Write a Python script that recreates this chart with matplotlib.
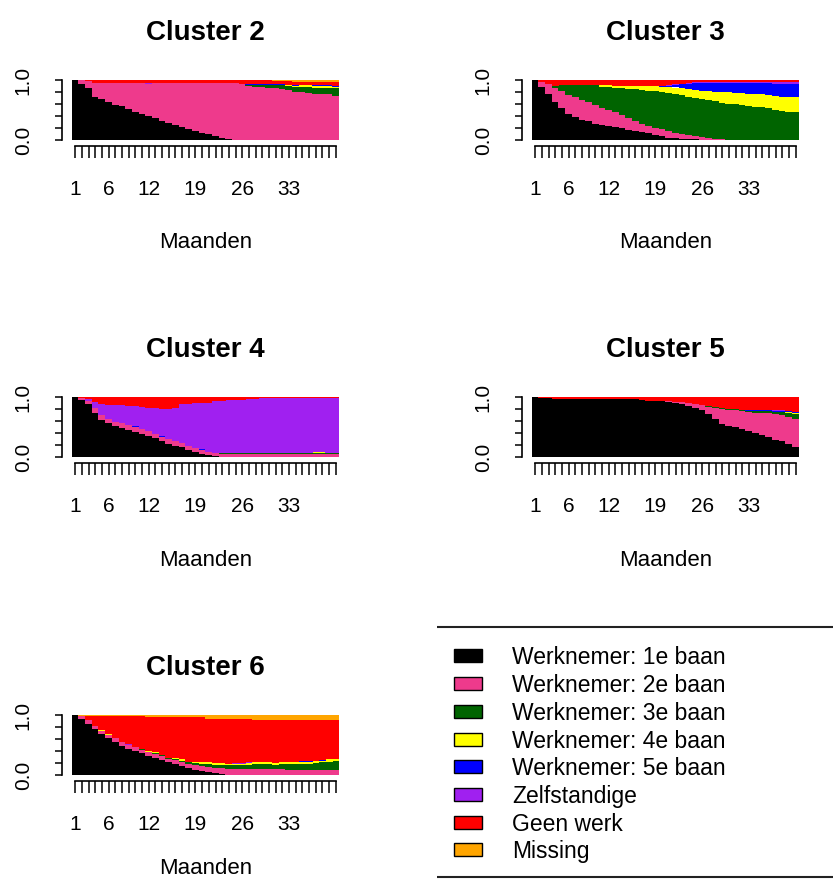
import matplotlib.pyplot as plt
from matplotlib.patches import Rectangle
import numpy as np

plt.rcParams['font.family'] = ['Liberation Sans', 'DejaVu Sans']

W, H = 833, 882

# months on the x axis, only some get a label
months = list(range(1, 41))
shown_ticks = [1, 6, 12, 19, 26, 33]

states = ['Werknemer: 1e baan', 'Werknemer: 2e baan', 'Werknemer: 3e baan',
          'Werknemer: 4e baan', 'Werknemer: 5e baan', 'Zelfstandige',
          'Geen werk', 'Missing']
state_colors = ['#000000', '#EE3A8C', '#006400', '#FFFF00',
                '#0000FF', '#A020F0', '#FF0000', '#FFA500']

# state distributions in percent per month
# Cluster 2
c2_w1 = [100, 94, 86, 72, 68, 64, 59, 56, 51, 47, 43, 40, 36, 32, 29, 25, 22, 18, 15, 12,
         10, 7, 4, 2, 0, 0, 0, 0, 0, 0, 0, 0, 0, 0, 0, 0, 0, 0, 0, 0]
c2_w2 = [0, 6, 12, 23, 27, 31, 36, 39, 44, 48, 52, 54, 59, 63, 66, 70, 73, 77, 80, 83,
         85, 88, 91, 93, 95, 93, 90, 89, 88, 87, 86, 85, 83, 80, 80, 79, 77, 77, 76, 74]
c2_w3 = [0, 0, 0, 0, 0, 0, 0, 0, 0, 0, 0, 0, 0, 0, 0, 0, 0, 0, 0, 0,
         0, 0, 0, 0, 0, 1, 2, 3, 4, 5, 6, 6, 7, 8, 8, 9, 10, 10, 11, 12]
c2_w4 = [0, 0, 0, 0, 0, 0, 0, 0, 0, 0, 0, 0, 0, 0, 0, 0, 0, 0, 0, 0,
         0, 0, 0, 0, 0, 0, 0, 0, 0, 0, 0, 1, 1, 2, 3, 3, 3, 3, 3, 3]
c2_w5 = [0, 0, 0, 0, 0, 0, 0, 0, 0, 0, 0, 0, 0, 0, 0, 0, 0, 0, 0, 0,
         0, 0, 0, 0, 0, 0, 1, 1, 1, 1, 1, 1, 1, 1, 1, 1, 1, 1, 1, 1]
c2_zelf = [0, 0, 0, 0, 0, 0, 0, 0, 0, 0, 0, 1, 0, 0, 0, 0, 0, 0, 0, 0,
           0, 0, 0, 0, 0, 0, 0, 0, 0, 0, 0, 0, 0, 0, 0, 0, 0, 0, 0, 0]
c2_geen = [0, 0, 2, 5, 5, 5, 5, 5, 5, 5, 5, 5, 5, 5, 5, 5, 5, 5, 5, 5,
           5, 5, 5, 5, 5, 6, 7, 7, 7, 7, 6, 6, 6, 6, 5, 5, 5, 5, 5, 6]
c2_miss = [0, 0, 0, 0, 0, 0, 0, 0, 0, 0, 0, 0, 0, 0, 0, 0, 0, 0, 0, 0,
           0, 0, 0, 0, 0, 0, 0, 0, 0, 0, 1, 1, 2, 3, 3, 3, 4, 4, 4, 4]

# Cluster 3
c3_w1 = [100, 89, 76, 63, 53, 44, 39, 34, 31, 27, 25, 23, 21, 19, 17, 15, 13, 11, 8, 6,
         4, 3, 2, 2, 1, 0, 0, 0, 0, 0, 0, 0, 0, 0, 0, 0, 0, 0, 0, 0]
c3_w2 = [0, 8, 17, 23, 28, 31, 32, 33, 32, 31, 29, 27, 25, 23, 19, 16, 13, 11, 11, 11,
         10, 9, 7, 6, 5, 5, 3, 2, 1, 0, 0, 0, 0, 0, 0, 0, 0, 0, 0, 0]
c3_w3 = [0, 0, 0, 4, 11, 17, 21, 25, 29, 34, 35, 39, 41, 44, 48, 52, 55, 57, 58, 59,
         61, 61, 63, 61, 62, 61, 61, 61, 60, 59, 58, 57, 55, 54, 53, 51, 50, 48, 47, 46]
c3_w4 = [0, 0, 0, 0, 0, 0, 0, 0, 0, 0, 2, 2, 3, 3, 4, 5, 6, 7, 8, 9,
         10, 11, 12, 12, 13, 14, 15, 16, 17, 18, 19, 20, 20, 21, 21, 22, 23, 23, 24, 26]
c3_w5 = [0, 0, 0, 0, 0, 0, 0, 0, 0, 0, 0, 0, 0, 0, 0, 0, 0, 0, 0, 1,
         2, 4, 6, 9, 11, 12, 13, 14, 15, 15, 16, 16, 17, 17, 18, 19, 20, 21, 22, 22]
c3_zelf = [0, 0, 0, 0, 0, 0, 0, 0, 0, 0, 0, 0, 0, 0, 0, 0, 0, 0, 1, 1,
           1, 1, 1, 1, 1, 1, 1, 1, 1, 1, 1, 1, 1, 1, 1, 1, 2, 2, 2, 2]
c3_geen = [0, 3, 7, 10, 8, 8, 8, 8, 8, 8, 9, 9, 10, 10, 10, 10, 10, 10, 9, 9,
           8, 7, 6, 5, 4, 4, 4, 4, 4, 4, 4, 4, 4, 4, 4, 4, 4, 4, 4, 4]
c3_miss = [0, 0, 0, 0, 0, 0, 0, 0, 0, 0, 0, 0, 0, 0, 0, 0, 0, 0, 0, 0,
           0, 0, 0, 0, 0, 0, 0, 0, 0, 0, 0, 0, 0, 0, 0, 0, 0, 0, 0, 0]

# Cluster 4
c4_w1 = [100, 95, 88, 74, 62, 56, 51, 48, 45, 42, 39, 35, 31, 26, 22, 19, 16, 12, 8, 5,
         3, 1, 0, 0, 0, 0, 0, 0, 0, 0, 0, 0, 0, 0, 0, 0, 0, 0, 0, 0]
c4_w2 = [0, 3, 6, 7, 8, 8, 8, 8, 8, 8, 8, 8, 8, 8, 8, 8, 8, 7, 7, 7,
         6, 6, 5, 5, 5, 5, 5, 5, 5, 5, 5, 5, 5, 5, 5, 5, 5, 5, 5, 5]
c4_w3 = [0, 0, 0, 0, 0, 0, 0, 0, 0, 0, 0, 0, 0, 0, 0, 0, 0, 0, 0, 0,
         0, 0, 2, 2, 2, 2, 2, 2, 1, 1, 2, 2, 2, 2, 2, 2, 2, 2, 2, 2]
c4_w4 = [0, 0, 0, 0, 0, 0, 0, 0, 0, 0, 0, 0, 0, 0, 0, 0, 0, 0, 0, 0,
         0, 0, 0, 0, 0, 0, 0, 0, 0, 0, 0, 0, 0, 0, 0, 0, 2, 2, 0, 0]
c4_w5 = [0, 0, 0, 0, 0, 0, 0, 0, 0, 1, 0, 0, 0, 1, 0, 0, 0, 0, 0, 1,
         0, 0, 0, 0, 0, 0, 0, 0, 0, 0, 0, 0, 0, 0, 0, 0, 0, 0, 0, 0]
c4_zelf = [0, 0, 2, 11, 18, 23, 27, 30, 32, 34, 37, 39, 42, 45, 50, 54, 64, 70, 75, 77,
           81, 86, 87, 88, 88, 88, 89, 90, 92, 92, 91, 91, 91, 91, 91, 91, 89, 89, 91, 91]
c4_geen = [0, 2, 4, 8, 12, 13, 14, 14, 15, 15, 16, 18, 19, 20, 20, 19, 12, 11, 10, 10,
           10, 7, 6, 5, 5, 5, 4, 3, 2, 2, 2, 2, 2, 2, 2, 2, 2, 2, 2, 2]
c4_miss = [0, 0, 0, 0, 0, 0, 0, 0, 0, 0, 0, 0, 0, 0, 0, 0, 0, 0, 0, 0,
           0, 0, 0, 0, 0, 0, 0, 0, 0, 0, 0, 0, 0, 0, 0, 0, 0, 0, 0, 0]

# Cluster 5
c5_w1 = [100, 99, 98, 96, 96, 96, 96, 96, 96, 96, 96, 96, 96, 96, 96, 96, 95, 94, 93, 93,
         92, 90, 88, 85, 82, 79, 72, 63, 55, 52, 50, 47, 44, 40, 36, 33, 29, 26, 22, 17]
c5_w2 = [0, 0, 1, 1, 0, 0, 0, 0, 0, 0, 0, 0, 0, 0, 0, 0, 0, 0, 1, 1,
         1, 2, 3, 5, 6, 8, 12, 19, 25, 26, 28, 29, 31, 34, 37, 40, 42, 44, 45, 46]
c5_w3 = [0, 0, 0, 0, 0, 0, 0, 0, 0, 0, 0, 0, 0, 0, 0, 0, 0, 0, 0, 0,
         0, 0, 0, 0, 0, 0, 1, 1, 1, 2, 2, 2, 2, 2, 3, 3, 4, 5, 7, 9]
c5_w4 = [0, 0, 0, 0, 0, 0, 0, 0, 0, 0, 0, 0, 0, 0, 0, 0, 0, 0, 0, 0,
         0, 0, 0, 0, 0, 0, 0, 0, 0, 0, 0, 0, 0, 0, 0, 0, 0, 0, 1, 2]
c5_w5 = [0, 0, 0, 0, 0, 0, 0, 0, 0, 0, 0, 0, 0, 0, 0, 0, 0, 0, 0, 0,
         0, 0, 0, 0, 0, 0, 0, 0, 0, 0, 0, 1, 2, 2, 2, 2, 2, 2, 1, 1]
c5_zelf = [0, 0, 0, 0, 0, 0, 0, 0, 0, 0, 0, 0, 0, 0, 0, 0, 0, 0, 0, 0,
           0, 0, 0, 0, 0, 0, 0, 0, 0, 0, 0, 0, 0, 1, 1, 1, 1, 1, 0, 0]
c5_geen = [0, 1, 1, 3, 4, 4, 4, 4, 4, 4, 4, 4, 4, 4, 4, 4, 5, 6, 6, 6,
           7, 8, 9, 10, 12, 13, 15, 17, 19, 20, 20, 21, 21, 21, 21, 21, 22, 22, 24, 25]
c5_miss = [0, 0, 0, 0, 0, 0, 0, 0, 0, 0, 0, 0, 0, 0, 0, 0, 0, 0, 0, 0,
           0, 0, 0, 0, 0, 0, 0, 0, 0, 0, 0, 0, 0, 0, 0, 0, 0, 0, 0, 0]

# Cluster 6
c6_w1 = [100, 94, 85, 76, 68, 61, 55, 49, 44, 40, 36, 32, 29, 25, 21, 18, 15, 12, 9, 7,
         5, 3, 1, 0, 0, 0, 0, 0, 0, 0, 0, 0, 0, 0, 0, 0, 0, 0, 0, 0]
c6_w2 = [0, 4, 6, 6, 6, 6, 6, 6, 6, 6, 6, 6, 6, 6, 6, 7, 7, 7, 8, 8,
         9, 9, 10, 10, 10, 10, 10, 10, 10, 10, 10, 10, 9, 9, 8, 8, 8, 8, 8, 8]
c6_w3 = [0, 0, 0, 0, 0, 0, 0, 0, 0, 0, 1, 1, 1, 2, 2, 2, 2, 2, 3, 4,
         5, 5, 6, 6, 6, 6, 7, 8, 8, 8, 7, 8, 9, 10, 11, 11, 12, 13, 14, 15]
c6_w4 = [0, 0, 0, 0, 1, 2, 1, 0, 0, 0, 0, 1, 2, 0, 0, 2, 2, 1, 2, 2,
         2, 3, 3, 3, 3, 3, 3, 3, 3, 3, 3, 3, 3, 3, 3, 3, 3, 3, 4, 3]
c6_w5 = [0, 0, 0, 0, 0, 0, 0, 0, 0, 0, 0, 0, 0, 0, 0, 0, 0, 0, 0, 0,
         0, 0, 0, 0, 0, 0, 0, 0, 0, 0, 0, 0, 0, 0, 1, 1, 1, 1, 1, 1]
c6_zelf = [0, 0, 0, 0, 0, 0, 0, 0, 1, 1, 0, 0, 0, 0, 0, 0, 0, 0, 0, 0,
           0, 0, 0, 0, 1, 1, 1, 0, 0, 0, 0, 0, 0, 0, 0, 0, 0, 0, 0, 0]
c6_geen = [0, 1, 8, 17, 24, 30, 37, 44, 48, 52, 56, 57, 59, 64, 68, 68, 71, 75, 75, 76,
           73, 74, 74, 75, 74, 74, 73, 71, 71, 71, 72, 71, 71, 70, 69, 69, 68, 67, 65, 65]
c6_miss = [0, 1, 1, 1, 1, 1, 1, 1, 1, 1, 1, 3, 3, 3, 3, 3, 3, 3, 3, 3,
           6, 6, 6, 6, 6, 6, 6, 8, 8, 8, 8, 8, 8, 8, 8, 8, 8, 8, 8, 8]

clusters = [
    ('Cluster 2', [c2_w1, c2_w2, c2_w3, c2_w4, c2_w5, c2_zelf, c2_geen, c2_miss]),
    ('Cluster 3', [c3_w1, c3_w2, c3_w3, c3_w4, c3_w5, c3_zelf, c3_geen, c3_miss]),
    ('Cluster 4', [c4_w1, c4_w2, c4_w3, c4_w4, c4_w5, c4_zelf, c4_geen, c4_miss]),
    ('Cluster 5', [c5_w1, c5_w2, c5_w3, c5_w4, c5_w5, c5_zelf, c5_geen, c5_miss]),
    ('Cluster 6', [c6_w1, c6_w2, c6_w3, c6_w4, c6_w5, c6_zelf, c6_geen, c6_miss]),
]


def frac(l, t, r, b):
    # pixel box -> figure fraction
    return [l / W, 1 - b / H, (r - l) / W, (b - t) / H]


fig = plt.figure(figsize=(W / 100, H / 100), dpi=100)

bar_px = 267 / 40
col_left = [72, 532]
row_top = [80, 397, 715]

for i, (title, series) in enumerate(clusters):
    left = col_left[i % 2]
    top = row_top[i // 2]
    ax = fig.add_axes(frac(left - 1.5 * bar_px, top - 0.04 * 60,
                           left + 41.5 * bar_px, top + 66))
    props = np.array(series, dtype=float)
    props = props / props.sum(axis=0)
    bottom = np.zeros(len(months))
    for k in range(len(states)):
        # slightly wider than 1 so no white seams show between bars
        ax.bar(months, props[k], width=1.06, bottom=bottom,
               color=state_colors[k], linewidth=0)
        bottom += props[k]

    ax.set_xlim(-1.0, 42.0)
    ax.set_ylim(-0.1, 1.04)
    for s in ['top', 'right']:
        ax.spines[s].set_visible(False)
    ax.spines['left'].set_bounds(0, 1)
    ax.spines['bottom'].set_bounds(1, 40)
    ax.spines['left'].set_linewidth(1.2)
    ax.spines['bottom'].set_linewidth(1.2)

    ax.set_xticks(months)
    ax.set_xticklabels([str(m) if m in shown_ticks else '' for m in months])
    ax.set_yticks([0, 0.2, 0.4, 0.6, 0.8, 1.0])
    ax.set_yticklabels(['0.0', '', '', '', '', '1.0'], rotation=90, va='center')
    ax.tick_params(axis='x', length=8.6, width=1.1, pad=16, labelsize=15)
    ax.tick_params(axis='y', length=5, width=1.1, pad=16, labelsize=15)

    ax.set_title(title, fontsize=20, fontweight='bold', pad=27)
    # bottom row sits against the lower edge, keep its label inside
    ax.set_xlabel('Maanden', fontsize=16, labelpad=24 if i < 4 else 17)

# legend in the last cell
lax = fig.add_axes(frac(437, 622, 833, 882))
lax.set_xlim(437, 833)
lax.set_ylim(882, 622)
lax.axis('off')
lax.plot([437, 833], [627, 627], color='#222222', lw=1.5)
lax.plot([437, 833], [877, 877], color='#222222', lw=1.5)
for k, (name, col) in enumerate(zip(states, state_colors)):
    yc = 656 + 27.7 * k
    lax.add_patch(Rectangle((454, yc - 6.5), 28, 13, facecolor=col,
                            edgecolor='black', linewidth=1.0))
    lax.text(512, yc + 2, name, fontsize=16.5, va='center', ha='left')

fig.savefig('out.png', dpi=100)
